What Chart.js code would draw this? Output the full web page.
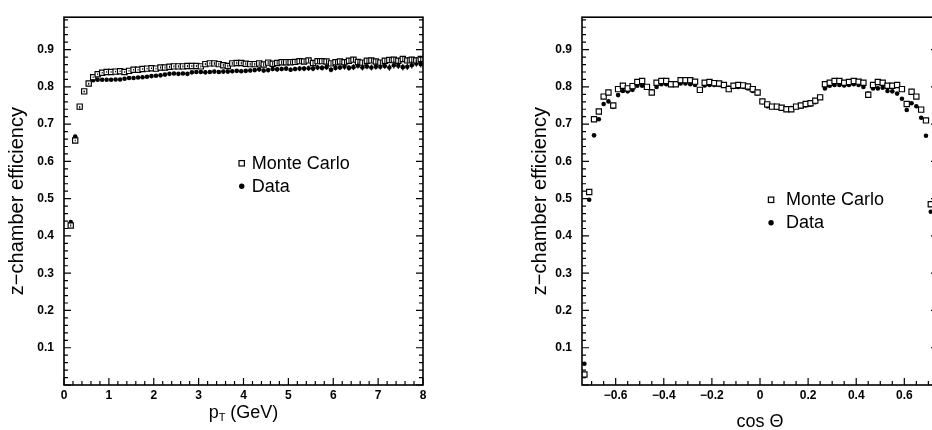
<!DOCTYPE html>
<html>
<head>
<meta charset="utf-8">
<script src="https://cdn.jsdelivr.net/npm/chart.js@4.4.1/dist/chart.umd.min.js"></script>
<style>
  html, body { margin: 0; padding: 0; background: #fff; overflow: hidden; }
  #wrap { position: relative; width: 932px; height: 430px; overflow: hidden; background: #fff; }
  .pane { position: absolute; top: 0; }
</style>
</head>
<body>
<div id="wrap">
  <div class="pane" style="left:0;width:466px;height:430px"><canvas id="ptChart" width="466" height="430"></canvas></div>
  <div class="pane" style="left:466px;width:490px;height:430px"><canvas id="cosChart" width="490" height="430"></canvas></div>
</div>
<script>
// ---- z-chamber efficiency versus transverse momentum (bin centres, GeV) ----
const PT_BINS = [0.15,0.25,0.35,0.45,0.55,0.65,0.75,0.85,0.95,1.05,
  1.15,1.25,1.35,1.45,1.55,1.65,1.75,1.85,1.95,2.05,
  2.15,2.25,2.35,2.45,2.55,2.65,2.75,2.85,2.95,3.05,
  3.15,3.25,3.35,3.45,3.55,3.65,3.75,3.85,3.95,4.05,
  4.15,4.25,4.35,4.45,4.55,4.65,4.75,4.85,4.95,5.05,
  5.15,5.25,5.35,5.45,5.55,5.65,5.75,5.85,5.95,6.05,
  6.15,6.25,6.35,6.45,6.55,6.65,6.75,6.85,6.95,7.05,
  7.15,7.25,7.35,7.45,7.55,7.65,7.75,7.85,7.95];

const MC_PT = [0.428,0.656,0.747,0.788,0.809,0.826,0.834,0.838,0.840,0.840,
  0.841,0.842,0.840,0.843,0.846,0.846,0.848,0.849,0.850,0.849,
  0.852,0.852,0.854,0.855,0.855,0.855,0.856,0.856,0.856,0.855,
  0.861,0.863,0.863,0.861,0.858,0.856,0.863,0.864,0.864,0.862,
  0.861,0.861,0.863,0.860,0.865,0.862,0.864,0.866,0.866,0.866,
  0.867,0.869,0.868,0.871,0.864,0.869,0.869,0.868,0.863,0.866,
  0.868,0.866,0.870,0.873,0.867,0.865,0.870,0.871,0.868,0.865,
  0.870,0.872,0.873,0.870,0.875,0.871,0.873,0.871,0.875];

const DATA_PT = [0.437,0.667,0.744,0.787,0.808,0.818,0.819,0.819,0.819,0.819,
  0.820,0.820,0.822,0.824,0.824,0.825,0.826,0.827,0.829,0.830,
  0.831,0.833,0.835,0.836,0.835,0.836,0.835,0.839,0.840,0.840,
  0.839,0.840,0.841,0.840,0.841,0.841,0.842,0.843,0.842,0.843,
  0.844,0.845,0.847,0.844,0.845,0.848,0.847,0.848,0.849,0.846,
  0.848,0.849,0.849,0.850,0.849,0.852,0.851,0.853,0.846,0.851,
  0.852,0.854,0.851,0.853,0.857,0.852,0.855,0.852,0.854,0.854,
  0.856,0.852,0.858,0.857,0.853,0.854,0.858,0.863,0.861];

const MC_PT_ERR = [0.003,0.002,0.002,0.002,0.002,0.002,0.002,0.002,0.002,0.002,
  0.002,0.002,0.002,0.002,0.002,0.002,0.002,0.002,0.002,0.002,
  0.003,0.003,0.003,0.003,0.003,0.003,0.003,0.003,0.003,0.003,
  0.003,0.003,0.004,0.004,0.004,0.004,0.004,0.004,0.004,0.004,
  0.004,0.004,0.005,0.005,0.005,0.005,0.005,0.005,0.005,0.005,
  0.005,0.006,0.006,0.006,0.006,0.006,0.006,0.006,0.006,0.006,
  0.006,0.007,0.007,0.007,0.007,0.007,0.007,0.007,0.007,0.007,
  0.007,0.008,0.008,0.008,0.008,0.008,0.008,0.008,0.008];

const DATA_PT_ERR = [0.003,0.003,0.002,0.002,0.002,0.002,0.002,0.002,0.002,0.002,
  0.002,0.002,0.002,0.002,0.002,0.002,0.003,0.003,0.003,0.003,
  0.003,0.003,0.003,0.003,0.003,0.003,0.004,0.004,0.004,0.004,
  0.004,0.004,0.004,0.004,0.005,0.005,0.005,0.005,0.005,0.005,
  0.005,0.005,0.006,0.006,0.006,0.006,0.006,0.006,0.006,0.006,
  0.006,0.007,0.007,0.007,0.007,0.007,0.007,0.007,0.007,0.007,
  0.007,0.008,0.008,0.008,0.008,0.008,0.008,0.008,0.008,0.008,
  0.008,0.009,0.009,0.009,0.009,0.009,0.009,0.009,0.009];

// ---- z-chamber efficiency versus polar angle (bin centres in cos theta) ----
const COS_BINS = [-0.73,-0.71,-0.69,-0.67,-0.65,-0.63,-0.61,-0.59,-0.57,-0.55,
  -0.53,-0.51,-0.49,-0.47,-0.45,-0.43,-0.41,-0.39,-0.37,-0.35,
  -0.33,-0.31,-0.29,-0.27,-0.25,-0.23,-0.21,-0.19,-0.17,-0.15,
  -0.13,-0.11,-0.09,-0.07,-0.05,-0.03,-0.01,0.01,0.03,0.05,
  0.07,0.09,0.11,0.13,0.15,0.17,0.19,0.21,0.23,0.25,
  0.27,0.29,0.31,0.33,0.35,0.37,0.39,0.41,0.43,0.45,
  0.47,0.49,0.51,0.53,0.55,0.57,0.59,0.61,0.63,0.65,
  0.67,0.69,0.71,0.73];

const MC_COS = [0.028,0.518,0.713,0.734,0.774,0.785,0.750,0.794,0.803,0.796,
  0.802,0.813,0.816,0.800,0.785,0.811,0.816,0.816,0.807,0.807,
  0.818,0.818,0.818,0.814,0.792,0.811,0.813,0.810,0.809,0.805,
  0.794,0.803,0.805,0.804,0.801,0.794,0.785,0.761,0.753,0.747,
  0.747,0.744,0.740,0.740,0.747,0.750,0.754,0.756,0.763,0.772,
  0.807,0.811,0.816,0.816,0.811,0.813,0.816,0.814,0.811,0.779,
  0.805,0.813,0.811,0.803,0.803,0.805,0.794,0.754,0.787,0.774,
  0.739,0.710,0.485,0.030];

const DATA_COS = [0.057,0.497,0.670,0.713,0.754,0.761,0.746,0.778,0.789,0.788,
  0.792,0.803,0.803,0.798,0.788,0.800,0.807,0.807,0.805,0.807,
  0.809,0.809,0.807,0.805,0.792,0.804,0.805,0.805,0.805,0.803,
  0.798,0.800,0.800,0.800,0.796,0.789,0.783,0.759,0.748,0.746,
  0.744,0.743,0.741,0.743,0.746,0.747,0.750,0.752,0.759,0.772,
  0.796,0.803,0.805,0.805,0.804,0.805,0.807,0.805,0.800,0.782,
  0.796,0.796,0.798,0.789,0.788,0.782,0.768,0.738,0.756,0.748,
  0.717,0.669,0.465,0.060];

// ---- axis tick labels ----
const EFF_TICKS = [0.1,0.2,0.3,0.4,0.5,0.6,0.7,0.8,0.9];
const PT_TICKS = [0,1,2,3,4,5,6,7,8];
const COS_TICKS = [-0.6,-0.4,-0.2,0,0.2,0.4,0.6];

const SERIES_NAMES = ['Monte Carlo', 'Data'];
const Y_TITLE = 'z\u2212chamber efficiency';

const SANS = '"Liberation Sans", Arial, Helvetica, sans-serif';

// Frame, inward tick marks, error bars, in-plot legend and x title.
const framePlugin = {
  id: 'framePlugin',
  afterDatasetsDraw(chart, args, o) {
    const { ctx, chartArea: a, scales: { x, y } } = chart;
    ctx.save();
    ctx.strokeStyle = '#000';
    ctx.fillStyle = '#000';

    // vertical error bars
    ctx.lineWidth = 1;
    chart.data.datasets.forEach(ds => {
      if (!ds.errors) return;
      ds.data.forEach((p, i) => {
        const e = ds.errors[i];
        const px = x.getPixelForValue(p.x);
        ctx.beginPath();
        ctx.moveTo(px, y.getPixelForValue(p.y - e));
        ctx.lineTo(px, y.getPixelForValue(p.y + e));
        ctx.stroke();
      });
    });

    // frame
    ctx.lineWidth = 1.6;
    ctx.strokeRect(a.left, a.top, a.right - a.left, a.bottom - a.top);

    // ticks
    ctx.lineWidth = 1.2;
    const eps = 1e-6;
    const drawTicks = (scale, step, majorEvery, horizontal) => {
      const n = Math.round((scale.max - scale.min) / step) + 2;
      const start = Math.ceil(scale.min / step - eps);
      for (let k = start; k < start + n; k++) {
        const v = k * step;
        if (v > scale.max + eps) break;
        const major = Math.abs(k % majorEvery) === 0;
        const len = major ? o.majorLen : o.minorLen;
        const p = scale.getPixelForValue(v);
        ctx.beginPath();
        if (horizontal) {
          ctx.moveTo(p, a.bottom); ctx.lineTo(p, a.bottom - len);
        } else {
          ctx.moveTo(a.left, p); ctx.lineTo(a.left + len, p);
          ctx.moveTo(a.right, p); ctx.lineTo(a.right - len, p);
        }
        ctx.stroke();
      }
    };
    drawTicks(x, o.xMinor, o.xMajorEvery, true);
    drawTicks(y, o.yMinor, o.yMajorEvery, false);

    // legend inside the plot
    const lx = x.getPixelForValue(o.legend.x);
    let ly = y.getPixelForValue(o.legend.y);
    ctx.font = '18px ' + SANS;
    ctx.textBaseline = 'middle';
    chart.data.datasets.forEach(ds => {
      ctx.lineWidth = 1.2;
      if (ds.pointStyle === 'rect') {
        ctx.strokeRect(lx - 2.7, ly - 2.7, 5.4, 5.4);
      } else {
        ctx.beginPath(); ctx.arc(lx, ly, 2.7, 0, Math.PI * 2); ctx.fill();
      }
      ctx.fillText(ds.label, lx + o.legend.gap, ly + 0.5);
      ly += o.legend.dy;
    });

    // x-axis title (optionally with a subscript)
    const cx = (a.left + a.right) / 2;
    const parts = o.xTitle;
    let total = 0;
    parts.forEach(p => { ctx.font = (p.sub ? '11px ' : '18px ') + SANS; total += ctx.measureText(p.t).width; });
    let tx = cx - total / 2;
    ctx.textBaseline = 'alphabetic';
    parts.forEach(p => {
      ctx.font = (p.sub ? '11px ' : '18px ') + SANS;
      ctx.fillText(p.t, tx, o.xTitleY + (p.sub ? 3 : 0));
      tx += ctx.measureText(p.t).width;
    });
    ctx.restore();
  }
};

function makeDatasets(bins, mc, data, mcErr, dataErr) {
  return [
    {
      label: SERIES_NAMES[0],
      data: bins.map((b, i) => ({ x: b, y: mc[i] })),
      errors: mcErr,
      pointStyle: 'rect',
      pointRadius: 3.7,
      pointBorderWidth: 1.15,
      pointBorderColor: '#000',
      pointBackgroundColor: '#fff',
      showLine: false
    },
    {
      label: SERIES_NAMES[1],
      data: bins.map((b, i) => ({ x: b, y: data[i] })),
      errors: dataErr,
      pointStyle: 'circle',
      pointRadius: 2.3,
      pointBorderWidth: 0,
      pointBackgroundColor: '#000',
      showLine: false
    }
  ];
}

function makeOptions(cfg) {
  const tickFont = { family: SANS, size: 12, weight: 'bold' };
  return {
    responsive: false,
    animation: false,
    events: [],
    layout: { padding: { left: 0, right: cfg.padRight, top: 10, bottom: 0 } },
    plugins: {
      legend: { display: false },
      tooltip: { enabled: false },
      framePlugin: cfg.frame
    },
    scales: {
      x: {
        type: 'linear',
        min: cfg.xMin, max: cfg.xMax,
        grid: { display: false, drawTicks: false },
        border: { display: false },
        afterBuildTicks: s => { s.ticks = cfg.xTicks.map(v => ({ value: v })); },
        afterFit: s => { s.height = 45; },
        ticks: {
          color: '#000', font: tickFont, padding: 3, maxRotation: 0, autoSkip: false,
          callback: cfg.xLabel
        }
      },
      y: {
        type: 'linear',
        min: 0, max: 0.987,
        grid: { display: false, drawTicks: false },
        border: { display: false },
        afterBuildTicks: s => { s.ticks = EFF_TICKS.map(v => ({ value: v })); },
        afterFit: s => { s.width = cfg.yWidth; },
        ticks: {
          color: '#000', font: tickFont, padding: 10, autoSkip: false,
          callback: v => v.toFixed(1)
        },
        title: {
          display: true, text: Y_TITLE, color: '#000',
          font: { family: SANS, size: 20 },
          padding: { top: cfg.yTitlePad, bottom: 0 }
        }
      }
    }
  };
}

new Chart(document.getElementById('ptChart'), {
  type: 'scatter',
  data: { datasets: makeDatasets(PT_BINS, MC_PT, DATA_PT, MC_PT_ERR, DATA_PT_ERR) },
  options: makeOptions({
    xMin: 0, xMax: 8, xTicks: PT_TICKS, padRight: 43, yWidth: 64, yTitlePad: 5,
    xLabel: v => String(v),
    frame: {
      majorLen: 7, minorLen: 4,
      xMinor: 0.2, xMajorEvery: 5, yMinor: 0.02, yMajorEvery: 5,
      legend: { x: 3.96, y: 0.595, dy: 23, gap: 10 },
      xTitle: [{ t: 'p' }, { t: 'T', sub: true }, { t: ' (GeV)' }],
      xTitleY: 418
    }
  }),
  plugins: [framePlugin]
});

new Chart(document.getElementById('cosChart'), {
  type: 'scatter',
  data: { datasets: makeDatasets(COS_BINS, MC_COS, DATA_COS, null, null) },
  options: makeOptions({
    xMin: -0.74, xMax: 0.74, xTicks: COS_TICKS, padRight: 18, yWidth: 116, yTitlePad: 62,
    xLabel: v => (v < 0 ? '\u2212' : '') + (v === 0 ? '0' : Math.abs(v).toFixed(1)),
    frame: {
      majorLen: 7, minorLen: 4,
      xMinor: 0.05, xMajorEvery: 4, yMinor: 0.02, yMajorEvery: 5,
      legend: { x: 0.046, y: 0.497, dy: 23, gap: 15 },
      xTitle: [{ t: 'cos \u0398' }],
      xTitleY: 427
    }
  }),
  plugins: [framePlugin]
});
</script>
</body>
</html>
